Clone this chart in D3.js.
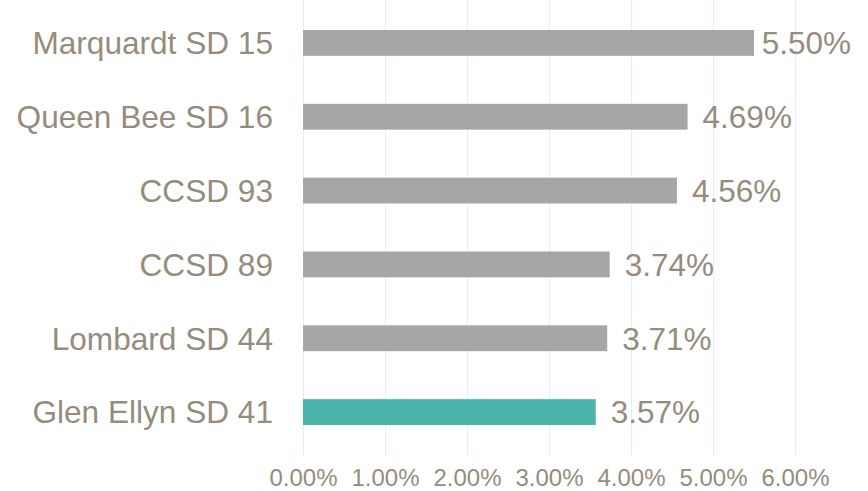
<!DOCTYPE html>
<html>
  <head>
    <meta charset="utf-8" />
    <title>District comparison</title>
    <script src="https://cdn.jsdelivr.net/npm/d3@7"></script>
    <style>
      body { margin: 0; background: #fff; }
      text { font-family: "Liberation Sans", Arial, sans-serif; fill: #958c7d; }
    </style>
  </head>
  <body>
    <script>
      var categories = ["Marquardt SD 15", "Queen Bee SD 16", "CCSD 93", "CCSD 89", "Lombard SD 44", "Glen Ellyn SD 41"];
      var values = [5.50, 4.69, 4.56, 3.74, 3.71, 3.57];
      var tickValues = [0, 1, 2, 3, 4, 5, 6];
      var highlight = "Glen Ellyn SD 41";

      var w = 868, h = 491;
      var plotLeft = 303, plotRight = 795, plotTop = 6, plotBottom = 449;

      var data = categories.map(function(c, i) { return { name: c, value: values[i] }; });

      var svg = d3.select("body").append("svg")
          .attr("width", w)
          .attr("height", h);

      var x = d3.scaleLinear().domain([0, 6]).range([plotLeft, plotRight]);
      var y = d3.scaleBand().domain(categories).range([plotTop, plotBottom]).paddingInner(0.65).paddingOuter(0.325);

      // gridlines
      svg.append("g").selectAll("line")
        .data(tickValues)
        .enter().append("line")
          .attr("x1", function(d) { return x(d) + 0.5; })
          .attr("x2", function(d) { return x(d) + 0.5; })
          .attr("y1", 0)
          .attr("y2", 456)
          .attr("stroke", "#dcf4ee")
          .attr("stroke-width", 1);

      // bars
      svg.append("g").selectAll("rect")
        .data(data)
        .enter().append("rect")
          .attr("x", x(0))
          .attr("y", function(d) { return y(d.name); })
          .attr("width", function(d) { return x(d.value) - x(0); })
          .attr("height", y.bandwidth())
          .attr("fill", function(d) { return d.name === highlight ? "#4bb5ab" : "#a6a6a6"; });

      // value labels (kept inside the right edge)
      svg.append("g").selectAll("text")
        .data(data)
        .enter().append("text")
          .attr("y", function(d) { return y(d.name) + y.bandwidth() / 2; })
          .attr("dy", "0.36em")
          .style("font-size", "31.5px")
          .text(function(d) { return d.value.toFixed(2) + "%"; })
          .attr("x", function(d) {
            var len = this.getComputedTextLength();
            return Math.min(x(d.value) + 15, 851 - len);
          });

      // category labels
      svg.append("g").selectAll("text")
        .data(categories)
        .enter().append("text")
          .attr("x", 273)
          .attr("y", function(d) { return y(d) + y.bandwidth() / 2; })
          .attr("dy", "0.36em")
          .attr("text-anchor", "end")
          .style("font-size", "31.6px")
          .text(function(d) { return d; });

      // x axis
      var xAxis = d3.axisBottom(x)
          .tickValues(tickValues)
          .tickSize(0)
          .tickPadding(0)
          .tickFormat(function(d) { return d.toFixed(2) + "%"; });

      var ax = svg.append("g")
          .attr("transform", "translate(0," + 486 + ")")
          .call(xAxis);
      ax.select(".domain").remove();
      ax.attr("font-family", null).attr("font-size", null);
      ax.selectAll("text")
          .attr("dy", 0)
          .style("font-size", "24px");
    </script>
  </body>
</html>
